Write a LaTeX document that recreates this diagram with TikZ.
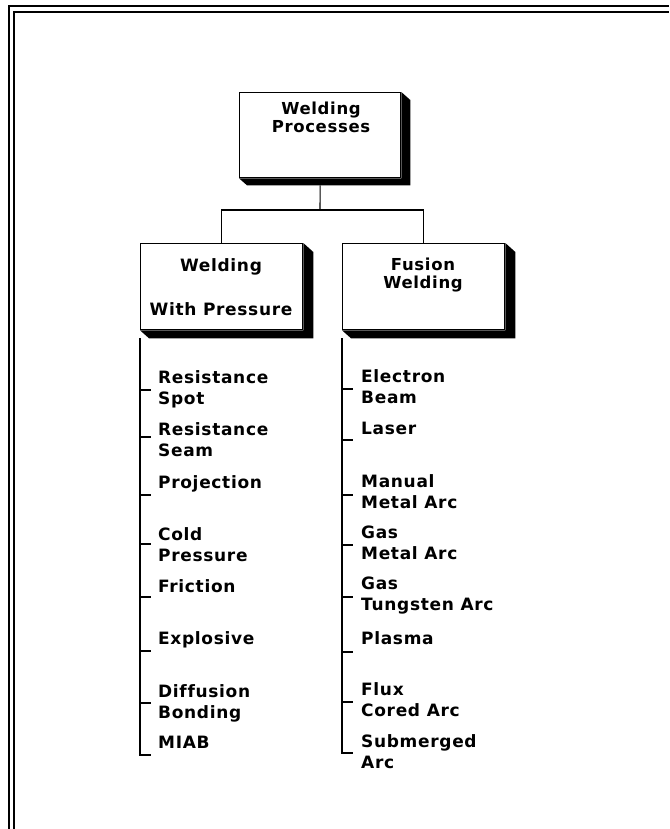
\documentclass[tikz,border=0pt]{standalone}
\usepackage{fontspec}
\usetikzlibrary{calc}
\newfontfamily\labfont{DejaVu Sans}[LetterSpace=4,Ligatures=NoCommon]
\begin{document}
\begin{tikzpicture}[x=1pt,y=-1pt,
  frame/.style={line width=2pt},
  boxst/.style={draw, line width=1.3pt, fill=white, inner sep=0pt, anchor=north west},
  shadow/.style={fill=black},
  lbl/.style={font=\labfont\bfseries\fontsize{17}{21}\selectfont, inner sep=0pt, align=left, anchor=north west},
  hdr/.style={font=\labfont\bfseries\fontsize{16.5}{18}\selectfont, inner sep=0pt, align=center, anchor=north},
  conn/.style={line width=1.1pt},
  tick/.style={line width=1.1pt}]
\useasboundingbox (0,0) rectangle (669,829);
% page frame
\draw[frame] (9,829) -- (9,6) -- (669,6);
\draw[frame] (14,829) -- (14,12) -- (669,12);

% boxes
\node[boxst, minimum width=161pt, minimum height=85pt] (wp) at (239,92) {};
\node[boxst, minimum width=162pt, minimum height=86pt] (wwp) at (140,243) {};
\node[boxst, minimum width=162pt, minimum height=86pt] (fw) at (342,243) {};

% shadows
\fill[shadow] (wp.north east) -- ($(wp.north east)+(9,8)$) -- ($(wp.south east)+(9,7)$) -- ($(wp.south west)+(8,7)$) -- (wp.south west) -- (wp.south east) -- cycle;
\fill[shadow] (wwp.north east) -- ($(wwp.north east)+(10,9)$) -- ($(wwp.south east)+(10,8)$) -- ($(wwp.south west)+(9,8)$) -- (wwp.south west) -- (wwp.south east) -- cycle;
\fill[shadow] (fw.north east) -- ($(fw.north east)+(10,9)$) -- ($(fw.south east)+(10,8)$) -- ($(fw.south west)+(9,8)$) -- (fw.south west) -- (fw.south east) -- cycle;

% box texts
\node[hdr] (wpt) at (321,102) {Welding\\Processes};
\node[hdr, font=\labfont\bfseries\fontsize{17}{44}\selectfont] (wwpt) at (221,258) {Welding\\With Pressure};
\node[hdr] (fwt) at (423,258) {Fusion\\Welding};

% connectors
\coordinate (jn) at (320,210);
\draw[conn] ($(wp.south)+(0,7)$) -- (jn);
\draw[conn] (wwp.north) |- (jn) -| (fw.north);

% left list
\coordinate (Lend) at (140,755);
\draw[conn] ($(wwp.south west)+(0,8)$) -- (Lend) -- ++(11,0);
\foreach \ty in {390,437,495,544,597,651,703} \draw[tick] (140,\ty) -- ++(11,0);
\node[lbl] (l1) at (158,370) {Resistance\\Spot};
\node[lbl] (l2) at (158,422) {Resistance\\Seam};
\node[lbl] (l3) at (158,475) {Projection};
\node[lbl] (l4) at (158,527) {Cold\\Pressure};
\node[lbl] (l5) at (158,579) {Friction};
\node[lbl] (l6) at (158,631) {Explosive};
\node[lbl] (l7) at (158,684) {Diffusion\\Bonding};
\node[lbl] (l8) at (158,736) {MIAB};

% right list
\coordinate (Rend) at (342,753);
\draw[conn] ($(fw.south west)+(0,8)$) -- (Rend) -- ++(11,0);
\foreach \ty in {389,440,495,545,597,652,702} \draw[tick] (342,\ty) -- ++(11,0);
\node[lbl] (r1) at (361,369) {Electron\\Beam};
\node[lbl] (r2) at (361,422) {Laser};
\node[lbl] (r3) at (361,474) {Manual\\Metal Arc};
\node[lbl] (r4) at (361,526) {Gas\\Metal Arc};
\node[lbl] (r5) at (361,577) {Gas\\Tungsten Arc};
\node[lbl] (r6) at (361,631) {Plasma};
\node[lbl] (r7) at (361,682) {Flux\\Cored Arc};
\node[lbl] (r8) at (361,734) {Submerged\\Arc};
\end{tikzpicture}
\end{document}
